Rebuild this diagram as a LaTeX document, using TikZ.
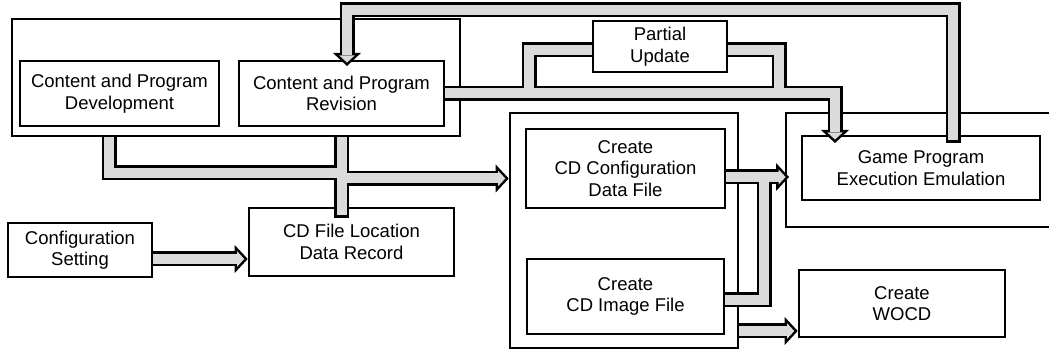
\documentclass[tikz,border=0pt]{standalone}
\usepackage{fontspec}
\setmainfont{Liberation Sans}
\usetikzlibrary{arrows.meta,positioning,calc}
\definecolor{pipegray}{gray}{0.86}

\begin{document}
\begin{tikzpicture}[
  x=1pt, y=1pt,
  font=\fontsize{18.5pt}{21.5pt}\selectfont,
  box/.style={draw, line width=2.6pt, outer sep=0pt, inner sep=0pt, align=center},
  tube/.style={line width=15pt, line join=miter},
  tubefill/.style={line width=10pt, pipegray, line join=miter, shorten <=1.3pt},
  tubearrow/.style={tube, -{Triangle[length=13pt,width=28pt,line width=0pt]}, shorten >=1.3pt},
  tubefillarrow/.style={tubefill, -{Triangle[length=7.1pt,width=15.3pt,line width=0pt]}, shorten >=4.7pt}
]
  \useasboundingbox (0,0) rectangle (1049,350);

  \node[box, minimum width=448pt, minimum height=117pt] (devgrp) at (236,272.5) {};
  \node[box, minimum width=199pt, minimum height=65pt] (dev) at (119.5,256.5) {Content and Program\\Development};
  \node[box, minimum width=205pt, minimum height=65pt, right=20pt of dev] (rev) {Content and Program\\Revision};
  \node[box, minimum width=134pt, minimum height=51pt] (partial) at (660,303.5) {Partial\\Update};
  \node[box, minimum width=144pt, minimum height=54pt] (cfg) at (80,100) {Configuration\\Setting};
  \node[box, minimum width=205pt, minimum height=68pt] (loc) at (351.5,108) {CD File Location\\Data Record};
  \node[box, minimum width=228pt, minimum height=235pt] (cdgrp) at (624,119.5) {};
  \node[box, minimum width=199pt, minimum height=79pt] (cdcfg) at (625.5,181.5) {Create\\CD Configuration\\Data File};
  \node[box, minimum width=197pt, minimum height=75pt, below=51pt of cdcfg] (cdimg) {Create\\CD Image File};
  \node[minimum width=274pt, minimum height=114pt, outer sep=0pt, inner sep=0pt] (gamegrp) at (923,180) {};
  \draw[line width=2.6pt] (gamegrp.north east) -- (gamegrp.north west) -- (gamegrp.south west) -- (gamegrp.south east);
  \node[box, minimum width=238pt, minimum height=64pt] (game) at (921,182) {Game Program\\Execution Emulation};
  \node[box, minimum width=206pt, minimum height=67pt] (wocd) at (902,46.5) {Create\\WOCD};

  \coordinate (jn) at ($(devgrp.south -| rev)+(0,-37)$);
  \coordinate (pj1) at ($(rev.east)+(85,0)$);
  \coordinate (cfgout) at ($(cdcfg.east)+(39,-8.5)$);
  \coordinate (loopl) at ($(rev.north)+(5.5,51)$);

  \draw[tube] ($(devgrp.south -| dev)+(-10.5,0)$) |- (jn);
  \draw[tube] (devgrp.south -| rev) -- ($(loc.north -| rev)+(0,-10)$);
  \draw[tubearrow] ($(jn)+(0,-5.5)$) -- ($(jn -| cdgrp.west)+(0,-5.5)$);
  \draw[tubearrow] ($(cfg.east)+(0,-9)$) -- ($(cfg.east -| loc.west)+(0,-9)$);
  \draw[tubearrow] (rev.east) -| ($(game.north)+(-86,-8.3)$);
  \draw[tube] ($(partial.west)+(0,-3.5)$) -| (pj1);
  \draw[tube] ($(partial.east)+(0,-3.5)$) -| ($(rev.east)+(335,0)$);
  \draw[tubearrow] ($(cdcfg.east)+(0,-8.5)$) -- ($(cdcfg.east -| gamegrp.west)+(4.3,-8.5)$);
  \draw[tube] ($(cdimg.east)+(0,-3.5)$) -| (cfgout);
  \draw[tubearrow] ($(cdgrp.east)+(0,-100.5)$) -- ($(cdgrp.east -| wocd.west)+(0,-100.5)$);
  \draw[tubearrow] ($(game.north)+(32,-7)$) |- (loopl) -- ($(rev.north)+(5.5,-6.3)$);

  \draw[tubefill] ($(devgrp.south -| dev)+(-10.5,0)$) |- (jn);
  \draw[tubefill, shorten >=2.6pt] (devgrp.south -| rev) -- ($(loc.north -| rev)+(0,-10)$);
  \draw[tubefillarrow] ($(jn)+(0,-5.5)$) -- ($(jn -| cdgrp.west)+(0,-5.5)$);
  \draw[tubefillarrow] ($(cfg.east)+(0,-9)$) -- ($(cfg.east -| loc.west)+(0,-9)$);
  \draw[tubefillarrow] (rev.east) -| ($(game.north)+(-86,-8.3)$);
  \draw[tubefill] ($(partial.west)+(0,-3.5)$) -| (pj1);
  \draw[tubefill] ($(partial.east)+(0,-3.5)$) -| ($(rev.east)+(335,0)$);
  \draw[tubefillarrow] ($(cdcfg.east)+(0,-8.5)$) -- ($(cdcfg.east -| gamegrp.west)+(4.3,-8.5)$);
  \draw[tubefill] ($(cdimg.east)+(0,-3.5)$) -| (cfgout);
  \draw[tubefillarrow] ($(cdgrp.east)+(0,-100.5)$) -- ($(cdgrp.east -| wocd.west)+(0,-100.5)$);
  \draw[tubefillarrow, shorten <=2.6pt] ($(game.north)+(32,-7)$) |- (loopl) -- ($(rev.north)+(5.5,-6.3)$);
\end{tikzpicture}
\end{document}
